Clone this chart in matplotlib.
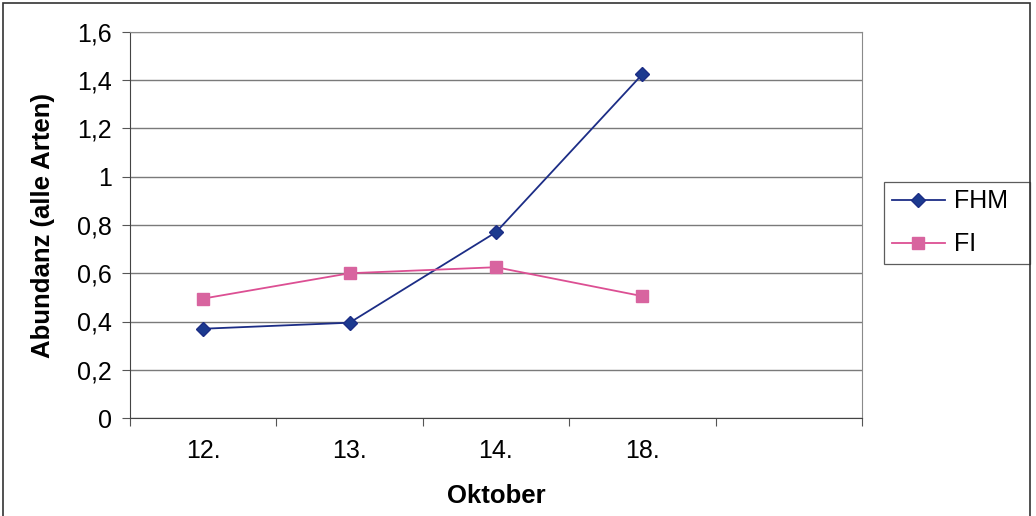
import matplotlib.pyplot as plt
import matplotlib.ticker as ticker
from matplotlib.patches import Rectangle

plt.rcParams['font.family'] = ['Liberation Sans', 'DejaVu Sans']

tage = ['12.', '13.', '14.', '18.']
fhm = [0.37, 0.395, 0.77, 1.425]
fi = [0.495, 0.60, 0.625, 0.505]
n_slots = 5  # Kategorieachse hat einen leeren fuenften Platz

fig = plt.figure(figsize=(10.36, 5.16), dpi=100)
ax = fig.add_axes([130/1036, 1 - 418/516, 732/1036, 386/516])

x = list(range(len(tage)))
ax.plot(x, fhm, color='#1c2d86', lw=1.3, marker='D', ms=7.5,
        markerfacecolor='#1c3a8f', markeredgecolor='#1c2d86', label='FHM')
ax.plot(x, fi, color='#dc4f93', lw=1.3, marker='s', ms=8,
        markerfacecolor='#d8649f', markeredgecolor='#d8649f', label='FI')

ax.set_xlim(-0.5, n_slots - 0.5)
ax.set_ylim(0, 1.6)
ax.set_yticks([i * 0.2 for i in range(9)])
ax.yaxis.set_major_formatter(ticker.FuncFormatter(
    lambda v, p: ('%g' % round(v, 1)).replace('.', ',')))
ax.grid(axis='y', color='#7a7a7a', lw=1.0)
ax.set_axisbelow(True)

# Teilstriche zwischen den Kategorien, Beschriftung in der Mitte
ax.set_xticks([i - 0.5 for i in range(n_slots + 1)])
ax.set_xticklabels([])
ax.set_xticks(x, minor=True)
ax.set_xticklabels(tage, minor=True)
ax.tick_params(axis='x', which='minor', length=0, pad=15, labelsize=18)
ax.tick_params(axis='x', which='major', length=6, color='#555555', direction='out')
ax.tick_params(axis='y', length=6, color='#555555', labelsize=18, pad=7)

for s in ['top', 'right']:
    ax.spines[s].set_color('#8a8a8a')
for s in ['left', 'bottom']:
    ax.spines[s].set_color('#444444')

ax.set_xlabel('Oktober', fontsize=18.5, fontweight='bold')
ax.set_ylabel('Abundanz (alle Arten)', fontsize=18.5, fontweight='bold')
ax.xaxis.set_label_coords(0.5, -0.172)
ax.yaxis.set_label_coords(-0.103, 0.5)

leg = ax.legend(loc='upper left', bbox_to_anchor=(884/1036, 1 - 264/516, 146/1036, 82/516),
                bbox_transform=fig.transFigure, mode='expand', fontsize=18,
                frameon=True, fancybox=False, handlelength=2.15, handletextpad=0.35,
                borderaxespad=0, labelspacing=0.75, borderpad=0.3)
leg.get_frame().set_edgecolor('#333333')
leg.get_frame().set_linewidth(0.9)

fig.patches.append(Rectangle((3/1036, -0.01), 1027/1036, 1 - 3/516 + 0.01,
                             transform=fig.transFigure, fill=False,
                             edgecolor='#333333', lw=1.2))

fig.savefig('out.png', dpi=100)
